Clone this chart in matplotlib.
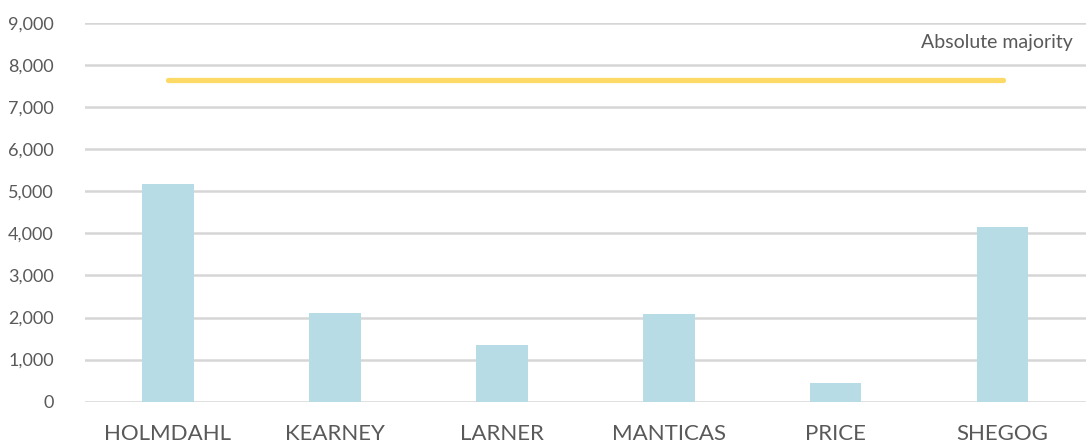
import matplotlib.pyplot as plt
from matplotlib.ticker import FuncFormatter

candidates = ['HOLMDAHL', 'KEARNEY', 'LARNER', 'MANTICAS', 'PRICE', 'SHEGOG']
votes = [5170, 2110, 1340, 2080, 440, 4160]
majority = 7650
y_ticks = [0, 1000, 2000, 3000, 4000, 5000, 6000, 7000, 8000, 9000]

plt.rcParams['font.family'] = ['Lato', 'DejaVu Sans']

fig = plt.figure(figsize=(10.89, 4.45), dpi=100)
ax = fig.add_axes([84.5 / 1089, 1 - 401.7 / 445, (1086 - 84.5) / 1089, (401.7 - 23) / 445])

x = range(len(candidates))
ax.bar(x, votes, width=0.31, color='#b8dce5', zorder=2)
ax.plot([0, len(candidates) - 1], [majority, majority], color='#fdd966',
        lw=3.8, solid_capstyle='round', zorder=3)
ax.text(5.42, 8530, 'Absolute majority', ha='right', va='center',
        fontsize=14, color='#595959')

ax.set_xlim(-0.5, len(candidates) - 0.5)
ax.set_ylim(0, 9000)
ax.set_yticks(y_ticks)
ax.yaxis.set_major_formatter(FuncFormatter(lambda v, p: f'{int(v):,}'))
ax.set_xticks(list(x))
ax.set_xticklabels(candidates)
ax.grid(axis='y', color='#d6d6d6', lw=1.8, zorder=1)
for s in ax.spines.values():
    s.set_visible(False)
ax.tick_params(axis='y', length=0, pad=22, labelsize=13, labelcolor='#595959')
ax.tick_params(axis='x', length=0, pad=16, labelsize=16, labelcolor='#595959')

fig.savefig('out.png', dpi=100)
